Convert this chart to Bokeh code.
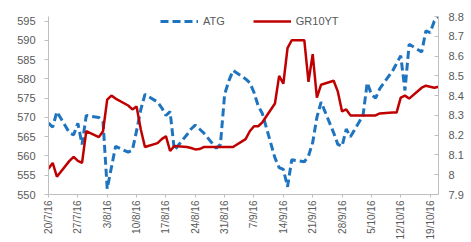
import pandas as pd
from math import pi
from bokeh.plotting import figure
from bokeh.models import (Range1d, LinearAxis, FixedTicker, CustomJSTickFormatter,
                          Legend, LegendItem, ColumnDataSource)
from bokeh.embed import file_html
from bokeh.resources import INLINE

dates = ["2016-07-20", "2016-07-21", "2016-07-22", "2016-07-25", "2016-07-26", "2016-07-27",
         "2016-07-28", "2016-07-29", "2016-08-01", "2016-08-02", "2016-08-03", "2016-08-04",
         "2016-08-05", "2016-08-08", "2016-08-09", "2016-08-10", "2016-08-11", "2016-08-12",
         "2016-08-15", "2016-08-16", "2016-08-17", "2016-08-18", "2016-08-19", "2016-08-22",
         "2016-08-23", "2016-08-24", "2016-08-25", "2016-08-26", "2016-08-29", "2016-08-30",
         "2016-08-31", "2016-09-01", "2016-09-02", "2016-09-05", "2016-09-06", "2016-09-07",
         "2016-09-08", "2016-09-09", "2016-09-12", "2016-09-13", "2016-09-14", "2016-09-15",
         "2016-09-16", "2016-09-19", "2016-09-20", "2016-09-21", "2016-09-22", "2016-09-23",
         "2016-09-26", "2016-09-27", "2016-09-28", "2016-09-29", "2016-09-30", "2016-10-03",
         "2016-10-04", "2016-10-05", "2016-10-06", "2016-10-07", "2016-10-10", "2016-10-11",
         "2016-10-12", "2016-10-13", "2016-10-14", "2016-10-17", "2016-10-18", "2016-10-19",
         "2016-10-20", "2016-10-21"]

atg = [568.5, 567.5, 571.5, 566.0, 565.5, 568.5, 563.0, 570.5, 570.0, 569.0, 551.5, 557.0,
       562.5, 561.0, 561.5, 566.5, 572.0, 576.0, 574.0, 572.5, 570.5, 571.5, 561.5, 565.5,
       567.0, 568.0, 567.0, 566.0, 562.0, 563.0, 576.0, 579.5, 582.2, 580.0, 579.0, 576.5,
       573.0, 571.0, 559.5, 557.0, 556.5, 552.0, 559.0, 558.5, 560.0, 563.5, 570.0, 574.0,
       566.0, 563.0, 562.5, 567.0, 565.0, 570.5, 579.0, 576.0, 575.0, 577.5, 582.0, 584.0,
       586.0, 577.0, 589.0, 587.0, 592.5, 592.0, 595.0, 596.0]

gr10yt = [8.03, 8.06, 7.99, 8.07, 8.09, 8.07, 8.06, 8.22, 8.19, 8.22, 8.38, 8.40,
          8.385, 8.35, 8.33, 8.345, 8.23, 8.14, 8.16, 8.18, 8.195, 8.12, 8.145, 8.14,
          8.135, 8.128, 8.13, 8.14, 8.14, 8.14, 8.14, 8.14, 8.14, 8.18, 8.22, 8.245,
          8.245, 8.265, 8.36, 8.50, 8.46, 8.64, 8.68, 8.68, 8.47, 8.61, 8.39, 8.455,
          8.475, 8.42, 8.32, 8.33, 8.30, 8.30, 8.30, 8.30, 8.30, 8.31, 8.314, 8.314,
          8.39, 8.40, 8.385, 8.44, 8.45, 8.445, 8.44, 8.445]

x_tick_dates = ["2016-07-20", "2016-07-27", "2016-08-03", "2016-08-10", "2016-08-17",
                "2016-08-24", "2016-08-31", "2016-09-07", "2016-09-14", "2016-09-21",
                "2016-09-28", "2016-10-05", "2016-10-12", "2016-10-19"]
left_ticks = [550, 555, 560, 565, 570, 575, 580, 585, 590, 595]
right_ticks = [7.9, 8.0, 8.1, 8.2, 8.3, 8.4, 8.5, 8.6, 8.7, 8.8]

x = pd.to_datetime(dates)
src = ColumnDataSource(dict(x=x, atg=atg, gr=gr10yt))

BLUE = "#1F74BF"
RED = "#C00000"
GRAY_TXT = "#595959"
AX = "#BFBFBF"
FONT = "Liberation Sans"

p = figure(width=471, height=242, x_axis_type="datetime",
           x_range=Range1d(pd.Timestamp("2016-07-20"), pd.Timestamp("2016-10-21")),
           y_range=Range1d(550, 596.2),
           output_backend="svg", toolbar_location=None,
           min_border_left=48, min_border_right=33, min_border_top=16, min_border_bottom=48)
p.extra_y_ranges = {"r": Range1d(7.9, 8.8)}
p.outline_line_color = None
p.xgrid.visible = False
p.ygrid.visible = False

r1 = p.line("x", "atg", source=src, color=BLUE, line_width=3, line_dash="8 4")
r2 = p.line("x", "gr", source=src, color=RED, line_width=2.5, y_range_name="r")

# bottom axis
xa = p.xaxis[0]
xa.ticker = FixedTicker(ticks=[pd.Timestamp(d).value / 1e6 for d in x_tick_dates])
xa.formatter = CustomJSTickFormatter(code="""
const d = new Date(tick);
return d.getUTCDate() + "/" + (d.getUTCMonth() + 1) + "/" + (d.getUTCFullYear() % 100);
""")
xa.major_label_orientation = pi / 2
xa.major_label_text_font = FONT
xa.major_label_text_font_size = "10px"
xa.major_label_text_color = GRAY_TXT
xa.major_label_standoff = 3
xa.major_tick_out = 3
xa.major_tick_in = 0
xa.minor_tick_out = 0
xa.minor_tick_in = 0
xa.axis_line_color = AX
xa.major_tick_line_color = AX

# left axis
ya = p.yaxis[0]
ya.ticker = FixedTicker(ticks=left_ticks)
ya.major_label_text_font = FONT
ya.major_label_text_font_size = "11px"
ya.major_label_text_color = GRAY_TXT
ya.major_label_standoff = 9
ya.major_tick_out = 4
ya.major_tick_in = 0
ya.minor_tick_out = 0
ya.minor_tick_in = 0
ya.axis_line_color = AX
ya.major_tick_line_color = AX

# right axis
ra = LinearAxis(y_range_name="r")
ra.ticker = FixedTicker(ticks=right_ticks)
ra.formatter = CustomJSTickFormatter(code="""
return tick.toFixed(1).replace(/\\.0$/, "");
""")
ra.major_label_text_font = FONT
ra.major_label_text_font_size = "11px"
ra.major_label_text_color = GRAY_TXT
ra.major_label_standoff = 10
ra.major_tick_out = 0
ra.major_tick_in = 4
ra.minor_tick_out = 0
ra.minor_tick_in = 0
ra.axis_line_color = AX
ra.major_tick_line_color = AX
p.add_layout(ra, "right")

legend = Legend(items=[LegendItem(label="ATG", renderers=[r1]),
                       LegendItem(label="GR10YT", renderers=[r2])],
                orientation="horizontal", location=(112, 167),
                glyph_width=38, glyph_height=12, label_height=12,
                label_standoff=5, spacing=28, padding=0, margin=0,
                label_text_font=FONT, label_text_font_size="11px",
                label_text_color=GRAY_TXT,
                background_fill_alpha=0, border_line_alpha=0)
p.add_layout(legend)

open("out.html", "w").write(file_html(p, INLINE))
